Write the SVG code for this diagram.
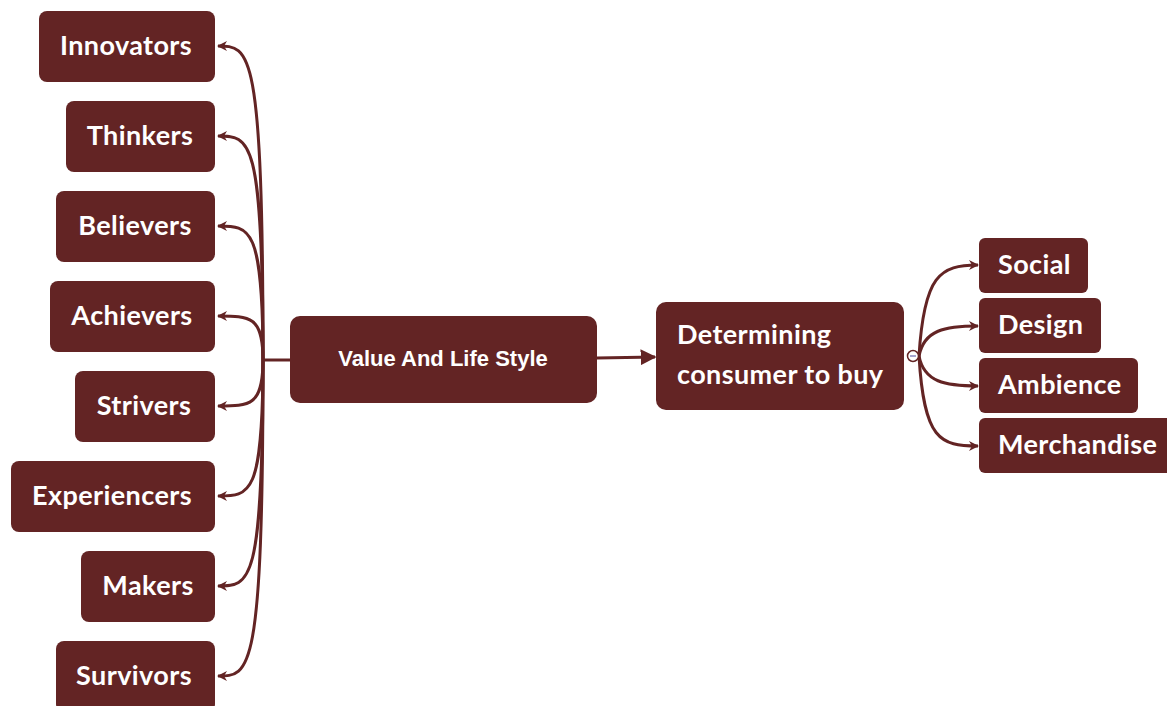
<svg xmlns="http://www.w3.org/2000/svg" width="1167" height="706" viewBox="0 0 1167 706">
  <style>
    .box { fill: #632424; }
    .lbl { font-family: Lato, "Open Sans", sans-serif; font-weight: 700; font-size: 27px; letter-spacing: 0.4px; fill: #ffffff; }
    .mid { text-anchor: middle; }
    .root { font-family: "Liberation Sans", Arial, sans-serif; font-weight: 700; font-size: 22px; fill: #ffffff; text-anchor: middle; }
    .link { fill: none; stroke: #632424; stroke-width: 3; }
  </style>
  <defs>
    <marker id="tip" viewBox="0 0 10 10" refX="9" refY="5" markerWidth="10" markerHeight="10" markerUnits="userSpaceOnUse" orient="auto">
      <path d="M0,0 L10,5 L0,10 L3,5 z" fill="#632424"/>
    </marker>
    <marker id="bigtip" viewBox="0 0 10 10" refX="9" refY="5" markerWidth="16" markerHeight="16" markerUnits="userSpaceOnUse" orient="auto">
      <path d="M0,0 L10,5 L0,10 z" fill="#632424"/>
    </marker>
  </defs>

  <g id="connectors">
    <!-- trunk from the root to the left fan -->
    <path class="link" d="M290,360 L263,360"/>
    <path class="link" marker-end="url(#tip)" d="M263,360 C263,46 250,46 218,46"/>
    <path class="link" marker-end="url(#tip)" d="M263,360 C263,136 250,136 218,136"/>
    <path class="link" marker-end="url(#tip)" d="M263,360 C263,226 250,226 218,226"/>
    <path class="link" marker-end="url(#tip)" d="M263,360 C263,316 250,316 218,316"/>
    <path class="link" marker-end="url(#tip)" d="M263,360 C263,406 250,406 218,406"/>
    <path class="link" marker-end="url(#tip)" d="M263,360 C263,496 250,496 218,496"/>
    <path class="link" marker-end="url(#tip)" d="M263,360 C263,586 250,586 218,586"/>
    <path class="link" marker-end="url(#tip)" d="M263,360 C263,676 250,676 218,676"/>
    <!-- root to the second hub -->
    <path class="link" stroke-width="4" marker-end="url(#bigtip)" d="M597,358 L655,357"/>
    <!-- right fan -->
    <path class="link" marker-end="url(#tip)" d="M919,356 C924,275 940,265 978,265"/>
    <path class="link" marker-end="url(#tip)" d="M919,356 C924,330 945,326 978,326"/>
    <path class="link" marker-end="url(#tip)" d="M919,356 C924,382 945,386 978,386"/>
    <path class="link" marker-end="url(#tip)" d="M919,356 C924,440 940,446 978,446"/>
    <!-- collapse toggle -->
    <circle cx="913" cy="356" r="5.5" fill="#ffffff" stroke="#632424" stroke-width="1.5"/>
    <line x1="910" y1="356" x2="916" y2="356" stroke="#6a6ab0" stroke-width="1.2"/>
  </g>

  <g id="innovators"><rect class="box" x="39" y="11" width="176" height="71" rx="8"/><text class="lbl mid" x="126" y="55">Innovators</text></g>
  <g id="thinkers"><rect class="box" x="66" y="101" width="149" height="71" rx="8"/><text class="lbl mid" x="140" y="145">Thinkers</text></g>
  <g id="believers"><rect class="box" x="56" y="191" width="159" height="71" rx="8"/><text class="lbl mid" x="135" y="235">Believers</text></g>
  <g id="achievers"><rect class="box" x="50" y="281" width="165" height="71" rx="8"/><text class="lbl mid" x="132" y="325">Achievers</text></g>
  <g id="strivers"><rect class="box" x="75" y="371" width="140" height="71" rx="8"/><text class="lbl mid" x="144" y="415">Strivers</text></g>
  <g id="experiencers"><rect class="box" x="11" y="461" width="204" height="71" rx="8"/><text class="lbl mid" x="112" y="505">Experiencers</text></g>
  <g id="makers"><rect class="box" x="81" y="551" width="134" height="71" rx="8"/><text class="lbl mid" x="148" y="595">Makers</text></g>
  <g id="survivors"><rect class="box" x="56" y="641" width="159" height="71" rx="8"/><text class="lbl mid" x="134" y="685">Survivors</text></g>

  <g id="value-life-style"><rect class="box" x="290" y="316" width="307" height="87" rx="10"/><text class="root" x="443" y="366">Value And Life Style</text></g>

  <g id="determining"><rect class="box" x="656" y="302" width="248" height="108" rx="10"/>
    <text class="lbl" x="677" y="344">Determining</text>
    <text class="lbl" x="677" y="384">consumer to buy</text>
  </g>

  <g id="social"><rect class="box" x="979" y="238" width="109" height="55" rx="6"/><text class="lbl" x="998" y="274">Social</text></g>
  <g id="design"><rect class="box" x="979" y="298" width="122" height="55" rx="6"/><text class="lbl" x="998" y="334">Design</text></g>
  <g id="ambience"><rect class="box" x="979" y="358" width="159" height="55" rx="6"/><text class="lbl" x="998" y="394">Ambience</text></g>
  <g id="merchandise"><rect class="box" x="979" y="418" width="195" height="55" rx="6"/><text class="lbl" x="998" y="454">Merchandise</text></g>
</svg>
